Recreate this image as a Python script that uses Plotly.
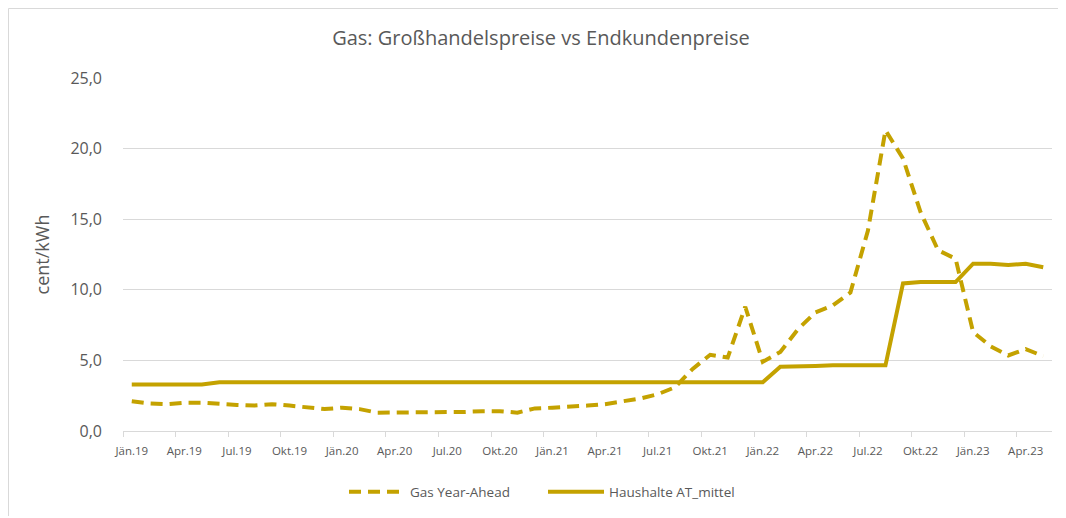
import plotly.graph_objects as go

months = [
    "Jän.19", "Feb.19", "Mär.19", "Apr.19", "Mai.19", "Jun.19", "Jul.19", "Aug.19", "Sep.19", "Okt.19", "Nov.19", "Dez.19",
    "Jän.20", "Feb.20", "Mär.20", "Apr.20", "Mai.20", "Jun.20", "Jul.20", "Aug.20", "Sep.20", "Okt.20", "Nov.20", "Dez.20",
    "Jän.21", "Feb.21", "Mär.21", "Apr.21", "Mai.21", "Jun.21", "Jul.21", "Aug.21", "Sep.21", "Okt.21", "Nov.21", "Dez.21",
    "Jän.22", "Feb.22", "Mär.22", "Apr.22", "Mai.22", "Jun.22", "Jul.22", "Aug.22", "Sep.22", "Okt.22", "Nov.22", "Dez.22",
    "Jän.23", "Feb.23", "Mär.23", "Apr.23", "Mai.23",
]

gas_year_ahead = [
    2.1, 1.95, 1.9, 2.0, 2.0, 1.9, 1.85, 1.8, 1.9, 1.8, 1.65, 1.55,
    1.65, 1.55, 1.3, 1.3, 1.3, 1.3, 1.3, 1.35, 1.4, 1.4, 1.3, 1.6,
    1.65, 1.7, 1.8, 1.9, 2.1, 2.3, 2.6, 3.1, 4.4, 5.4, 5.2, 8.8,
    4.9, 5.6, 7.2, 8.4, 8.9, 9.8, 14.2, 21.3, 19.3, 15.5, 12.8, 12.2,
    7.0, 6.0, 5.35, 5.8, 5.3,
]

haushalte = [
    3.3, 3.3, 3.3, 3.3, 3.3, 3.45, 3.45, 3.45, 3.45, 3.45, 3.45, 3.45,
    3.45, 3.45, 3.45, 3.45, 3.45, 3.45, 3.45, 3.45, 3.45, 3.45, 3.45, 3.45,
    3.45, 3.45, 3.45, 3.45, 3.45, 3.45, 3.45, 3.45, 3.45, 3.45, 3.45, 3.45,
    3.45, 4.55, 4.55, 4.6, 4.65, 4.65, 4.65, 4.65, 10.45, 10.55, 10.55, 10.55,
    11.85, 11.85, 11.75, 11.85, 11.6,
]

tick_labels = ["Jän.19", "Apr.19", "Jul.19", "Okt.19", "Jän.20", "Apr.20", "Jul.20", "Okt.20",
               "Jän.21", "Apr.21", "Jul.21", "Okt.21", "Jän.22", "Apr.22", "Jul.22", "Okt.22",
               "Jän.23", "Apr.23"]

x_idx = list(range(len(months)))
tick_pos = [months.index(t) for t in tick_labels]
boundary_pos = [p - 0.5 for p in tick_pos]

GOLD = "#C4A200"
TXT = "#595959"
GRID = "#D9D9D9"
FONT = "Open Sans"

# the page body has an 8px margin, so the figure is sized/margined to compensate
W, H = 1058, 510
ML, MR, MT, MB = 115, 14, 70, 87
PW, PH = W - ML - MR, H - MT - MB

fig = go.Figure()
fig.add_trace(go.Scatter(
    x=x_idx, y=gas_year_ahead, name="Gas Year-Ahead", mode="lines",
    line=dict(color=GOLD, width=4, dash="12px,7px"),
    customdata=months, hovertemplate="%{customdata}: %{y}<extra></extra>",
))
fig.add_trace(go.Scatter(
    x=x_idx, y=haushalte, name="Haushalte AT_mittel", mode="lines",
    line=dict(color=GOLD, width=4),
    customdata=months, hovertemplate="%{customdata}: %{y}<extra></extra>",
))

fig.update_layout(
    width=W, height=H,
    margin=dict(l=ML, r=MR, t=MT, b=MB, autoexpand=False),
    paper_bgcolor="white", plot_bgcolor="white",
    separators=",.",
    font=dict(family=FONT, color=TXT),
    title=dict(text="Gas: Großhandelspreise vs Endkundenpreise", x=(541 - 8 - ML) / PW, xref="paper",
               xanchor="center", y=1 - 30 / H, yanchor="middle",
               font=dict(size=20, color=TXT, family=FONT)),
    showlegend=True,
    legend=dict(orientation="h", x=(346 - 10 - ML) / PW, xanchor="left", y=-61 / PH, yanchor="middle",
                font=dict(size=13.5, color=TXT, family=FONT), itemwidth=56,
                entrywidthmode="pixels", entrywidth=128),
    xaxis=dict(
        range=[-0.5, len(months) - 0.5], tickmode="array", tickvals=tick_pos, ticktext=tick_labels,
        ticks="", showgrid=False, showline=True, linecolor=GRID, linewidth=1, zeroline=False,
        tickfont=dict(size=11.5, color=TXT, family=FONT), ticklabelstandoff=9, automargin=False,
        minor=dict(tickmode="array", tickvals=boundary_pos, ticks="outside", ticklen=5,
                   tickcolor=GRID, showgrid=False),
    ),
    yaxis=dict(
        range=[0, 25], dtick=5, tickformat=".1f", showgrid=True, gridcolor=GRID, gridwidth=1,
        zeroline=False, showline=False, ticks="", ticklabelstandoff=20, automargin=False,
        tickfont=dict(size=16, color=TXT, family=FONT),
        title=dict(text="cent/kWh", font=dict(size=18, color=TXT, family=FONT), standoff=16),
    ),
)

# outer chart border (left and top edges)
bx = (0.5 - ML) / PW
by = 1 + (MT - 0.5) / PH
fig.add_shape(type="line", xref="paper", yref="paper", x0=bx, x1=bx, y0=-(MB - 2) / PH, y1=by,
              line=dict(color=GRID, width=1))
fig.add_shape(type="line", xref="paper", yref="paper", x0=bx, x1=1 + (MR - 2) / PW, y0=by, y1=by,
              line=dict(color=GRID, width=1))

fig.write_html("out.html")
